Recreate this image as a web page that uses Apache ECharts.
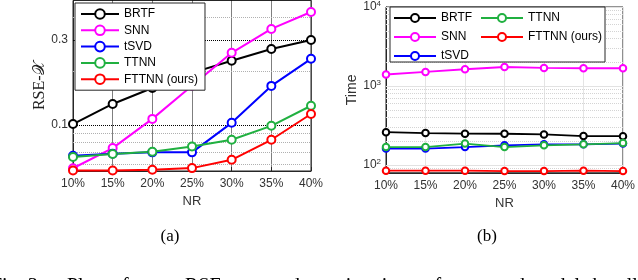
<!DOCTYPE html>
<html><head><meta charset="utf-8">
<script src="https://cdn.jsdelivr.net/npm/echarts@6/dist/echarts.min.js"></script>
<style>html,body{margin:0;padding:0;background:#fff}#c{width:638px;height:280px}</style>
</head><body><div id="c"></div>
<script>
const categories = ['10%','15%','20%','25%','30%','35%','40%'];
const seriesNames = ['BRTF','SNN','tSVD','TTNN','FTTNN (ours)'];
const seriesColors = ['#000000','#ff00ff','#0000ff','#20b040','#ff0000'];
// (a) RSE-X values
const rseBRTF  = [0.101,0.131,0.161,0.196,0.229,0.267,0.300];
const rseSNN   = [0.057,0.074,0.108,0.166,0.254,0.346,0.431];
const rseTSVD  = [0.067,0.0687,0.070,0.070,0.1026,0.1655,0.235];
const rseTTNN  = [0.0659,0.0686,0.0705,0.0755,0.0824,0.0987,0.128];
const rseFTTNN = [0.0553,0.0553,0.0559,0.0571,0.0636,0.0824,0.115];
// (b) Time values
const timeBRTF  = [261,254,250,249,244,233,232];
const timeSNN   = [1400,1510,1632,1742,1693,1679,1679];
const timeTSVD  = [162,162,169,178,183,183,187];
const timeTTNN  = [169,169,187,169,178,183,190];
const timeFTTNN = [85,85,85,84,84,85,84];
// tick labels / grid values
const rseTicks = [0.1,0.3];
const rseMinorGrid = [0.06,0.07,0.08,0.09,0.2,0.4];
const timeTicks = [100,1000,10000];
const timeMinorGrid = [90,200,300,400,500,600,700,800,900,2000,3000,4000,5000,6000,7000,8000,9000];

const rseData = [rseBRTF,rseSNN,rseTSVD,rseTTNN,rseFTTNN];
const timeData = [timeBRTF,timeSNN,timeTSVD,timeTTNN,timeFTTNN];

const sans = 'Liberation Sans, Arial, sans-serif';
const serif = 'Liberation Serif, Times New Roman, serif';
const axisColor = '#262626';
const labelColor = '#333333';

const chart = echarts.init(document.getElementById('c'), null, {renderer:'canvas'});

function mkSeries(vals, idx, gi) {
  return {
    name: seriesNames[idx], type:'line', xAxisIndex: gi, yAxisIndex: gi,
    data: vals, symbol:'emptyCircle', symbolSize: gi===0 ? 8 : 6.5,
    color: seriesColors[idx],
    lineStyle:{width: gi===0 ? 2 : 1.8, color: seriesColors[idx]},
    itemStyle:{color: seriesColors[idx], borderWidth: gi===0 ? 2 : 1.6},
    emphasis:{disabled:true}, animation:false, z:3
  };
}

function gridSeries(gi, values, style) {
  return {
    type:'line', xAxisIndex: gi, yAxisIndex: gi, data: [], silent:true, z:1, animation:false,
    markLine:{ silent:true, z:1, symbol:['none','none'], label:{show:false}, animation:false,
      emphasis:{disabled:true},
      lineStyle: style, data: values.map(v => ({yAxis: v})) }
  };
}

const series = [
  gridSeries(0, rseMinorGrid, {type:'dotted', color:'#b0b0b0', width:1}),
  gridSeries(0, rseTicks, {type:'dotted', color:'#000', width:1}),
  gridSeries(1, timeMinorGrid, {type:'dotted', color:'#d4d4d4', width:1}),
  gridSeries(1, timeTicks, {type:'solid', color:'#e2e2e2', width:1})
];
rseData.forEach((d,i)=>series.push(mkSeries(d,i,0)));
timeData.forEach((d,i)=>series.push(mkSeries(d,i,1)));

const capStyle = t => ({text:t, font:'20px '+serif, fill:'#000', textVerticalAlign:'middle'});

const option = {
  backgroundColor:'#fff',
  animation:false,
  grid:[
    {left:73, top:0.5, width:238, height:170.5, show:true, borderColor:axisColor, borderWidth:1, backgroundColor:'#fff'},
    {left:386, top:5, width:239, height:167.75, show:true, borderColor:axisColor, borderWidth:1, backgroundColor:'#fff'}
  ],
  xAxis:[
    {type:'category', gridIndex:0, data:categories, boundaryGap:false,
     axisLine:{lineStyle:{color:axisColor}}, axisTick:{inside:true, length:4, lineStyle:{color:axisColor}},
     axisLabel:{fontSize:12, fontFamily:sans, color:labelColor, margin:7},
     splitLine:{show:true, lineStyle:{type:'dotted', color:'#000'}},
     name:'NR', nameLocation:'middle', nameGap:23, nameTextStyle:{fontSize:13, fontFamily:sans, color:labelColor}},
    {type:'category', gridIndex:1, data:categories, boundaryGap:false,
     axisLine:{lineStyle:{color:axisColor}}, axisTick:{inside:true, length:4, lineStyle:{color:axisColor}},
     axisLabel:{fontSize:12, fontFamily:sans, color:labelColor, margin:7},
     splitLine:{show:true, lineStyle:{type:'solid', color:'#e4e4e4'}},
     name:'NR', nameLocation:'middle', nameGap:22, nameTextStyle:{fontSize:13, fontFamily:sans, color:labelColor}}
  ],
  yAxis:[
    {type:'log', logBase:10, gridIndex:0, min:0.055, max:0.5,
     axisLine:{show:true, lineStyle:{color:axisColor}},
     axisTick:{show:true, inside:true, length:4, customValues:rseTicks, lineStyle:{color:axisColor}},
     axisLabel:{customValues:rseTicks, formatter:v=>String(+(+v).toPrecision(3)), fontSize:12, fontFamily:sans, color:labelColor, margin:5},
     splitLine:{show:false}, minorTick:{show:false},
     name:'RSE-𝒳', nameLocation:'middle', nameRotate:90, nameGap:25,
     nameTextStyle:{fontSize:16, fontFamily:serif, color:'#222'}},
    {type:'log', logBase:10, gridIndex:1, min:80, max:10000,
     axisLine:{show:true, lineStyle:{color:axisColor}},
     axisTick:{show:true, inside:true, length:4, customValues:timeTicks, lineStyle:{color:axisColor}},
     axisLabel:{customValues:timeTicks, formatter:v=>'10{sup|'+Math.round(Math.log10(v))+'}',
       fontSize:12, fontFamily:sans, color:labelColor, margin:5,
       rich:{sup:{fontSize:8, fontFamily:sans, color:labelColor, verticalAlign:'top', padding:[0,0,6,0]}}},
     splitLine:{show:false},
     name:'Time', nameLocation:'middle', nameRotate:90, nameGap:27,
     nameTextStyle:{fontSize:14, fontFamily:sans, color:labelColor}}
  ],
  legend:[
    {data:seriesNames, orient:'vertical', left:75, top:3, padding:[5,7,5,5], itemWidth:38, itemHeight:12, itemGap:4.3, z:6,
     backgroundColor:'#fff', borderColor:axisColor, borderWidth:1, textStyle:{fontSize:12, fontFamily:sans, color:'#000'}, selectedMode:false},
    {data:seriesNames.slice(0,3), orient:'vertical', left:390, top:7, padding:[5,0,0,3], itemWidth:42, itemHeight:10, itemGap:7, z:7,
     textStyle:{fontSize:12, fontFamily:sans, color:'#000'}, selectedMode:false},
    {data:seriesNames.slice(3), orient:'vertical', left:477, top:7, padding:[5,0,0,3], itemWidth:42, itemHeight:10, itemGap:7, z:7,
     textStyle:{fontSize:12, fontFamily:sans, color:'#000'}, selectedMode:false}
  ],
  graphic:[
    {type:'rect', shape:{x:390, y:7, width:215, height:55}, style:{fill:'#fff', stroke:axisColor, lineWidth:1}, z:6},
    {type:'text', x:170, y:237, style:{text:'(a)', font:'17px '+serif, fill:'#000', textAlign:'center', textVerticalAlign:'middle'}},
    {type:'text', x:487, y:237, style:{text:'(b)', font:'17px '+serif, fill:'#000', textAlign:'center', textVerticalAlign:'middle'}},
    {type:'text', x:-9, y:287, style:capStyle('Fig. 3:')},
    {type:'text', x:67, y:287, style:capStyle('Plots of mean')},
    {type:'text', x:185, y:287, style:capStyle('RSE')},
    {type:'text', x:271, y:287, style:capStyle('and')},
    {type:'text', x:309, y:287, style:capStyle('running times of compared models by all')}
  ],
  series: series
};
chart.setOption(option);
</script></body></html>
